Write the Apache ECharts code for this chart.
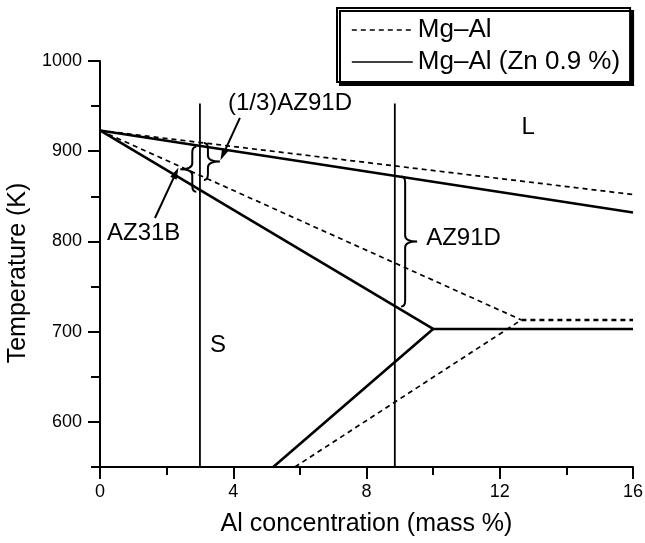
<!DOCTYPE html>
<html>
<head>
<meta charset="utf-8">
<script src="https://cdn.jsdelivr.net/npm/echarts@6/dist/echarts.min.js"></script>
<style>html,body{margin:0;padding:0;background:#fff;}#c{width:645px;height:543px;}</style>
</head>
<body>
<div id="c"></div>
<script>
// ---- data ----
const xTicks = [0, 4, 8, 12, 16];
const yTicks = [600, 700, 800, 900, 1000];
const yMinorTicks = [550, 650, 750, 850, 950];

const mgAlLiquidus = [[0, 923], [16, 852]];
const mgAlSolidus = [[0, 923], [12.65, 713]];
const mgAlEutectic = [[12.65, 713], [16, 713]];
const mgAlSolvus = [[5.85, 550], [12.65, 713]];

const znLiquidus = [[0, 923], [16, 832]];
const znSolidus = [[0, 923], [10, 703]];
const znEutectic = [[10, 703], [16, 703]];
const znSolvus = [[5.2, 550], [10, 703]];

const alloyAl = [3, 8.85];
const alloyTop = 953;

// labels: [text, x, y, anchor]
const labels = [
  ['(1/3)AZ91D', 3.84, 953.4, 'left'],
  ['AZ31B', 0.21, 809.4, 'left'],
  ['AZ91D', 9.79, 803.8, 'left'],
  ['L', 12.85, 926.8, 'center'],
  ['S', 3.54, 685.2, 'center']
];
// braces: [x, yTop, yBottom, direction]
const braces = [
  [2.77, 905, 855, -1],
  [3.24, 909, 868, 1],
  [9.16, 872, 728, 1]
];
// arrows: [x0, y0, x1, y1] (from -> tip)
const arrows = [
  [4.2, 937, 3.69, 896],
  [1.65, 826, 2.28, 876]
];

const FONT = 'Liberation Sans';
const chart = echarts.init(document.getElementById('c'));

function seg(name, data, dashed, width) {
  return {
    name: name, type: 'line', data: data, symbol: 'none', silent: true,
    itemStyle: { color: 'rgba(0,0,0,0)' },
    lineStyle: { color: '#000', width: width, type: dashed ? [5, 4] : 'solid' },
    z: 3
  };
}

const series = [
  seg('Mg–Al', mgAlLiquidus, true, 1.7),
  seg('Mg–Al', mgAlSolidus, true, 1.7),
  seg('Mg–Al', mgAlEutectic, true, 2.6),
  seg('Mg–Al', mgAlSolvus, true, 1.7),
  seg('Mg–Al (Zn 0.9 %)', znLiquidus, false, 2.6),
  seg('Mg–Al (Zn 0.9 %)', znSolidus, false, 2.6),
  seg('Mg–Al (Zn 0.9 %)', znEutectic, false, 2.6),
  seg('Mg–Al (Zn 0.9 %)', znSolvus, false, 2.6)
];
alloyAl.forEach(function (a) {
  series.push({
    name: 'alloy', type: 'line', symbol: 'none', silent: true,
    data: [[a, 550], [a, alloyTop]],
    lineStyle: { color: '#000', width: 1.8 }
  });
});
series.push({
  name: 'arrows', type: 'line', data: [], symbol: 'none', silent: true,
  markLine: {
    silent: true, animation: false,
    symbol: ['none', 'triangle'], symbolSize: [7, 12],
    label: { show: false },
    itemStyle: { color: '#000' },
    lineStyle: { color: '#000', width: 2, type: 'solid' },
    data: arrows.map(function (a) {
      return [{ coord: [a[0], a[1]] }, { coord: [a[2], a[3]] }];
    })
  }
});
series.push({
  name: 'braces', type: 'custom', silent: true,
  data: braces,
  encode: { x: 0, y: [1, 2] },
  renderItem: function (params, api) {
    const p1 = api.coord([api.value(0), api.value(1)]);
    const p2 = api.coord([api.value(0), api.value(2)]);
    const d = api.value(3);
    const x0 = p1[0], top = p1[1], bot = p2[1], mid = (top + bot) / 2;
    const a = 4, r = 6, tip = 12;
    const path = 'M' + (x0 - d * a) + ' ' + top +
      ' Q' + x0 + ' ' + top + ' ' + x0 + ' ' + (top + r) +
      ' L' + x0 + ' ' + (mid - r) +
      ' Q' + x0 + ' ' + mid + ' ' + (x0 + d * tip) + ' ' + mid +
      ' Q' + x0 + ' ' + mid + ' ' + x0 + ' ' + (mid + r) +
      ' L' + x0 + ' ' + (bot - r) +
      ' Q' + x0 + ' ' + bot + ' ' + (x0 - d * a) + ' ' + bot;
    return {
      type: 'path',
      shape: { pathData: path },
      style: { stroke: '#000', fill: null, lineWidth: 2 }
    };
  }
});
series.push({
  name: 'labels', type: 'scatter', symbolSize: 0, silent: true,
  itemStyle: { opacity: 1, color: 'rgba(0,0,0,0)' },
  data: labels.map(function (l) {
    return {
      value: [l[1], l[2]],
      label: {
        show: true, formatter: l[0],
        position: l[3] === 'left' ? 'right' : 'inside', distance: 0,
        color: '#000', opacity: 1, fontSize: 24, fontFamily: FONT,
        textBorderWidth: 0
      }
    };
  })
});

chart.setOption({
  animation: false,
  backgroundColor: '#fff',
  grid: { left: 100, right: 12, top: 61, bottom: 76, containLabel: false, outerBoundsMode: 'none' },
  legend: {
    data: ['Mg–Al', 'Mg–Al (Zn 0.9 %)'],
    orient: 'vertical', left: 337, top: 8,
    padding: [9, 10, 7, 14],
    itemWidth: 61, itemHeight: 14, itemGap: 6, itemTextGap: 10,
    backgroundColor: '#fff', borderColor: '#000', borderWidth: 2, borderRadius: 0,
    shadowColor: '#000', shadowBlur: 0, shadowOffsetX: 3, shadowOffsetY: 3,
    lineStyle: { width: 1.6 },
    itemStyle: { opacity: 0 },
    selectedMode: false,
    textStyle: { color: '#000', fontSize: 26, fontFamily: FONT, lineHeight: 26 }
  },
  xAxis: {
    type: 'value', min: 0, max: 16, interval: 4,
    name: 'Al concentration (mass %)', nameLocation: 'middle', nameGap: 45,
    nameTextStyle: { color: '#000', fontSize: 25, fontFamily: FONT },
    axisLine: { onZero: false, lineStyle: { color: '#000', width: 2 } },
    axisTick: { length: 12, lineStyle: { color: '#000', width: 2 } },
    minorTick: { show: true, splitNumber: 2, length: 8, lineStyle: { color: '#000', width: 2 } },
    axisLabel: { color: '#000', fontSize: 18, fontFamily: FONT, margin: 16,
      formatter: function (v) { return xTicks.indexOf(v) >= 0 ? String(v) : ''; } },
    splitLine: { show: false }
  },
  yAxis: [{
    type: 'value', min: 550, max: 1000,
    name: 'Temperature (K)', nameLocation: 'middle', nameGap: 67, nameRotate: 90,
    nameTextStyle: { color: '#000', fontSize: 25, fontFamily: FONT, padding: [0, 18, 0, 0] },
    axisLine: { lineStyle: { color: '#000', width: 2 } },
    axisTick: { customValues: yTicks, length: 12, lineStyle: { color: '#000', width: 2 } },
    axisLabel: { customValues: yTicks, color: '#000', fontSize: 18, fontFamily: FONT, margin: 18,
      formatter: function (v) { return String(v); } },
    splitLine: { show: false }
  }, {
    type: 'value', min: 550, max: 1000, position: 'left', offset: 0,
    axisLine: { show: false },
    axisTick: { show: true, customValues: yMinorTicks, length: 9, lineStyle: { color: '#000', width: 2 } },
    axisLabel: { show: false },
    splitLine: { show: false }
  }],
  series: series
});
</script>
</body>
</html>
